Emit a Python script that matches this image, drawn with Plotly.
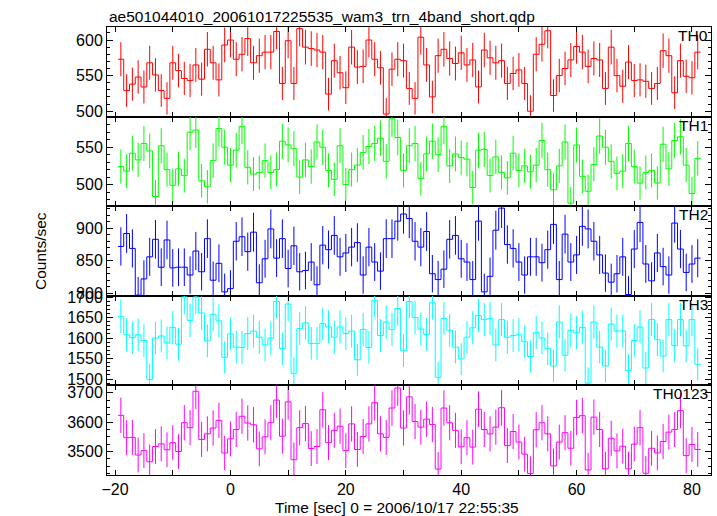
import numpy as np
import plotly.graph_objects as go
from plotly.subplots import make_subplots

# time bin centres [s], 1 s bins
time = list(range(-19, 82))

th0 = [573, 529, 538, 548, 534, 568, 551, 529, 518, 568,
       557, 546, 543, 565, 545, 587, 568, 544, 593, 600,
       573, 580, 602, 568, 578, 583, 583, 612, 539, 599,
       539, 616, 590, 588, 586, 583, 524, 571, 554, 533,
       590, 562, 563, 600, 573, 561, 496, 559, 573, 571,
       532, 518, 604, 565, 520, 578, 587, 574, 567, 582,
       565, 572, 534, 586, 575, 568, 571, 539, 553, 558,
       539, 500, 580, 594, 613, 522, 550, 560, 572, 591,
       583, 563, 574, 572, 532, 590, 550, 535, 569, 543,
       544, 542, 532, 539, 585, 578, 526, 571, 549, 547,
       583]

th1 = [524, 518, 542, 533, 555, 545, 484, 552, 520, 499,
       521, 512, 570, 573, 505, 497, 532, 575, 550, 526,
       546, 578, 523, 514, 516, 532, 516, 520, 558, 553,
       548, 510, 533, 524, 557, 550, 519, 507, 552, 500,
       520, 526, 543, 551, 555, 562, 531, 588, 563, 519,
       552, 555, 508, 541, 558, 540, 578, 525, 541, 536,
       534, 496, 546, 547, 512, 537, 516, 509, 542, 519,
       525, 517, 526, 559, 520, 493, 525, 557, 475, 553,
       511, 491, 527, 565, 550, 531, 515, 518, 555, 524,
       502, 516, 519, 502, 554, 521, 559, 564, 526, 488,
       535]

th2 = [872, 892, 869, 797, 822, 856, 883, 840, 882, 839,
       840, 840, 828, 865, 833, 884, 820, 846, 802, 807,
       880, 887, 864, 894, 816, 853, 899, 854, 884, 838,
       873, 833, 835, 848, 813, 874, 867, 889, 856, 862,
       871, 878, 828, 871, 848, 834, 884, 884, 911, 922,
       915, 880, 871, 895, 830, 821, 837, 883, 889, 853,
       848, 821, 911, 802, 826, 897, 931, 875, 869, 848,
       828, 856, 856, 847, 867, 906, 821, 891, 848, 859,
       903, 899, 880, 859, 831, 817, 830, 856, 798, 868,
       909, 845, 819, 862, 841, 828, 908, 868, 832, 845,
       854]

th3 = [1653, 1608, 1601, 1608, 1594, 1499, 1600, 1605, 1588, 1626,
       1585, 1700, 1643, 1700, 1661, 1593, 1658, 1642, 1553, 1610,
       1578, 1577, 1611, 1617, 1602, 1583, 1600, 1689, 1574, 1683,
       1514, 1623, 1637, 1587, 1587, 1635, 1627, 1602, 1627, 1611,
       1617, 1547, 1621, 1577, 1692, 1606, 1639, 1621, 1672, 1569,
       1689, 1650, 1622, 1609, 1686, 1504, 1648, 1619, 1578, 1549,
       1602, 1625, 1655, 1645, 1648, 1583, 1645, 1602, 1606, 1608,
       1591, 1555, 1613, 1600, 1574, 1532, 1639, 1558, 1619, 1613,
       1626, 1490, 1639, 1578, 1532, 1634, 1617, 1617, 1521, 1594,
       1627, 1527, 1645, 1596, 1556, 1645, 1582, 1645, 1581, 1645,
       1536]

th0123 = [3623, 3547, 3548, 3488, 3503, 3465, 3517, 3526, 3506, 3530,
          3500, 3598, 3581, 3705, 3541, 3560, 3580, 3606, 3495, 3543,
          3575, 3620, 3597, 3591, 3509, 3550, 3598, 3675, 3552, 3669,
          3472, 3581, 3595, 3510, 3517, 3642, 3530, 3572, 3586, 3503,
          3594, 3507, 3551, 3594, 3666, 3560, 3548, 3648, 3716, 3580,
          3686, 3602, 3583, 3610, 3592, 3440, 3648, 3598, 3572, 3516,
          3547, 3515, 3644, 3575, 3560, 3583, 3649, 3520, 3568, 3532,
          3491, 3425, 3574, 3598, 3560, 3451, 3532, 3564, 3511, 3616,
          3622, 3437, 3617, 3575, 3441, 3545, 3502, 3518, 3441, 3525,
          3581, 3426, 3511, 3495, 3534, 3566, 3575, 3639, 3486, 3524,
          3507]

band_names = ["TH0", "TH1", "TH2", "TH3", "TH0123"]
band_series = [th0, th1, th2, th3, th0123]
band_colors = ["#ff0000", "#00ff00", "#0000ff", "#00ffff", "#ff00ff"]
y_ranges = [[492.4, 618.3], [471, 591], [796, 934], [1484.5, 1703], [3420, 3725]]
y_major = [50, 50, 50, 50, 100]
y_minor = [10, 10, 10, 10, 25]
x_range = [-21.4, 83.3]

FONT = "Liberation Sans, Arial, Helvetica, sans-serif"
TXT = 15.5

fig = make_subplots(rows=5, cols=1, shared_xaxes=True, vertical_spacing=0)

t = np.array(time, dtype=float)
for r, (name, vals, col) in enumerate(zip(band_names, band_series, band_colors), start=1):
    v = np.array(vals, dtype=float)
    err = np.sqrt(v)
    xs = np.concatenate([t - 0.5, [t[-1] + 0.5]])
    ys = np.concatenate([v, [v[-1]]])
    fig.add_trace(go.Scatter(x=xs, y=ys, mode="lines",
                             line=dict(color=col, width=1, shape="hv"),
                             hoverinfo="skip", showlegend=False), row=r, col=1)
    fig.add_trace(go.Scatter(x=t, y=v, mode="markers",
                             marker=dict(size=1, color="rgba(0,0,0,0)"),
                             error_y=dict(type="data", array=err, color=col,
                                          thickness=1, width=0),
                             hoverinfo="skip", showlegend=False), row=r, col=1)
    fig.add_annotation(text=name, xref="x domain", yref="y domain",
                       x=1, y=1, xanchor="right", yanchor="top",
                       xshift=-1, yshift=2, showarrow=False,
                       font=dict(family=FONT, size=TXT, color="black"),
                       row=r, col=1)
    fig.update_yaxes(range=y_ranges[r - 1], dtick=y_major[r - 1], tick0=0,
                     ticks="inside", ticklen=6, tickwidth=1, tickcolor="black",
                     minor=dict(dtick=y_minor[r - 1], tick0=0, ticks="inside",
                                ticklen=3, tickcolor="black", showgrid=False),
                     showline=True, linecolor="black", linewidth=1,
                     mirror="ticks", showgrid=False, zeroline=False,
                     tickfont=dict(family=FONT, size=16, color="black"),
                     row=r, col=1)
    fig.update_xaxes(range=x_range, dtick=20, tick0=0,
                     ticks="inside", ticklen=5, tickwidth=1, tickcolor="black",
                     minor=dict(dtick=10, tick0=0, ticks="inside", ticklen=5,
                                tickcolor="black", showgrid=False),
                     showline=True, linecolor="black", linewidth=1,
                     mirror="ticks", showgrid=False, zeroline=False,
                     tickfont=dict(family=FONT, size=16, color="black"),
                     row=r, col=1)

fig.add_annotation(text="ae501044010_20061017225535_wam3_trn_4band_short.qdp",
                   xref="paper", yref="paper", x=0, y=1, xanchor="left",
                   yanchor="bottom", yshift=0, showarrow=False,
                   font=dict(family=FONT, size=TXT, color="black"))
fig.add_annotation(text="Counts/sec", xref="paper", yref="paper",
                   x=-0.111, y=0.5, textangle=-90, xanchor="center",
                   yanchor="middle", showarrow=False,
                   font=dict(family=FONT, size=TXT, color="black"))
fig.add_annotation(text="Time [sec] 0 = 2006/10/17 22:55:35", xref="paper",
                   yref="paper", x=0.48, y=-0.072, xanchor="center",
                   yanchor="middle", showarrow=False,
                   font=dict(family=FONT, size=TXT, color="black"))

fig.update_layout(width=717, height=516,
                  margin=dict(l=107, r=6, t=27, b=41),
                  paper_bgcolor="white", plot_bgcolor="white",
                  showlegend=False)

fig.write_html("out.html",
               config={"displayModeBar": False, "staticPlot": True},
               post_script="document.body.style.margin='0';document.body.style.overflow='hidden';")
